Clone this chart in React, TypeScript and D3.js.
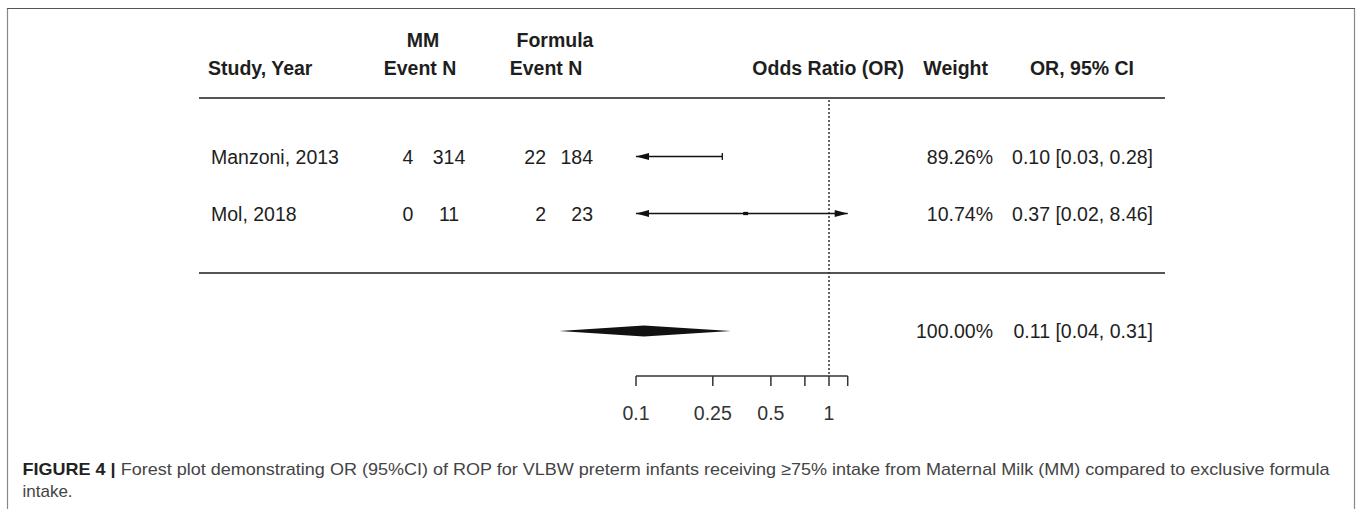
import React from "react";
import * as d3 from "d3";

const studies = ["Manzoni, 2013", "Mol, 2018"];
const mmEvent = [4, 0];
const mmN = [314, 11];
const fEvent = [22, 2];
const fN = [184, 23];
const orValues = [0.1, 0.37];
const lowerCI = [0.03, 0.02];
const upperCI = [0.28, 8.46];
const weights = [89.26, 10.74];
const summaryOR = 0.11;
const summaryLower = 0.04;
const summaryUpper = 0.31;
const summaryWeight = 100;
const tickValues = [0.1, 0.25, 0.5, 0.75, 1, 1.25];
const tickLabels = ["0.1", "0.25", "0.5", "", "1", ""];

const W = 1357;
const H = 509;
const FONT = "'Liberation Sans', Arial, Helvetica, sans-serif";
const INK = "#1e1e1e";

export default function App() {
  const x = d3.scaleLog().domain([0.1, 1]).range([636, 829]);
  const alim: [number, number] = [0.1, 1.25];
  const y = d3.scalePoint<string>().domain(studies).range([156.5, 213.5]);
  const summaryY = 331;
  const axisY = 376;

  const fmt2 = d3.format(".2f");
  const ciText = (o: number, l: number, u: number) =>
    `${fmt2(o)} [${fmt2(l)}, ${fmt2(u)}]`;

  const arrowLeft = (xt: number, yc: number) =>
    `M${xt},${yc} L${xt + 13},${yc - 3.5} L${xt + 13},${yc + 3.5} Z`;
  const arrowRight = (xt: number, yc: number) =>
    `M${xt},${yc} L${xt - 13},${yc - 3.5} L${xt - 13},${yc + 3.5} Z`;

  const xl = x(alim[0]);
  const xr = x(alim[1]);

  return (
    <svg
      width={W}
      height={H}
      style={{ position: "absolute", left: 0, top: 0, background: "#fff" }}
      fontFamily={FONT}
    >
      <rect x={0} y={0} width={W} height={H} fill="#fff" />
      {/* frame */}
      <line x1={7.5} y1={8} x2={7.5} y2={H} stroke="#888" strokeWidth={1.2} />
      <line x1={1354.5} y1={8} x2={1354.5} y2={H} stroke="#888" strokeWidth={1.2} />
      <line x1={7} y1={8.5} x2={1355} y2={8.5} stroke="#555" strokeWidth={1.2} />

      {/* header */}
      <g fontWeight="bold" fontSize={19.5} fill={INK}>
        <text x={208} y={75}>Study, Year</text>
        <text x={423} y={47} textAnchor="middle">MM</text>
        <text x={420} y={75} textAnchor="middle">Event N</text>
        <text x={555} y={47} textAnchor="middle">Formula</text>
        <text x={546} y={75} textAnchor="middle">Event N</text>
        <text x={904} y={75} textAnchor="end">Odds Ratio (OR)</text>
        <text x={988} y={75} textAnchor="end">Weight</text>
        <text x={1134} y={75} textAnchor="end">OR, 95% CI</text>
      </g>
      <line x1={199} x2={1165} y1={98} y2={98} stroke="#555" strokeWidth={2} />
      <line x1={199} x2={1165} y1={273} y2={273} stroke="#555" strokeWidth={2} />

      {/* reference line */}
      <line
        x1={x(1)}
        x2={x(1)}
        y1={100}
        y2={axisY}
        stroke="#333"
        strokeWidth={1.5}
        strokeDasharray="2,2"
      />

      {/* study rows */}
      <g fontSize={19.5} fill={INK}>
        {studies.map((s, i) => {
          const yc = y(s)!;
          const lo = lowerCI[i];
          const hi = upperCI[i];
          const x1 = x(Math.max(lo, alim[0]));
          const x2 = x(Math.min(hi, alim[1]));
          const o = orValues[i];
          const size = Math.sqrt(weights[i]) * 1.5;
          return (
            <g key={s}>
              <text x={211} y={yc + 7}>{s}</text>
              <text x={408} y={yc + 7} textAnchor="middle">{mmEvent[i]}</text>
              <text x={449} y={yc + 7} textAnchor="middle">{mmN[i]}</text>
              <text x={546} y={yc + 7} textAnchor="end">{fEvent[i]}</text>
              <text x={593} y={yc + 7} textAnchor="end">{fN[i]}</text>
              <text x={993} y={yc + 7} textAnchor="end">{fmt2(weights[i])}%</text>
              <text x={1153} y={yc + 7} textAnchor="end">{ciText(o, lo, hi)}</text>
              <line x1={x1} x2={x2} y1={yc} y2={yc} stroke="#111" strokeWidth={1.6} />
              {lo < alim[0] ? (
                <path d={arrowLeft(xl, yc)} fill="#111" />
              ) : (
                <line x1={x1} x2={x1} y1={yc - 3.5} y2={yc + 3.5} stroke="#111" strokeWidth={1.3} />
              )}
              {hi > alim[1] ? (
                <path d={arrowRight(xr, yc)} fill="#111" />
              ) : (
                <line x1={x2} x2={x2} y1={yc - 3.5} y2={yc + 3.5} stroke="#111" strokeWidth={1.3} />
              )}
              {o > alim[0] && o < alim[1] && (
                <rect
                  x={x(o) - size / 2}
                  y={yc - size / 3}
                  width={size}
                  height={(size * 2) / 3}
                  fill="#111"
                />
              )}
            </g>
          );
        })}
      </g>

      {/* summary */}
      <path
        d={`M${x(summaryLower)},${summaryY} L${x(summaryOR)},${summaryY - 5.5} L${x(
          summaryUpper
        )},${summaryY} L${x(summaryOR)},${summaryY + 5.5} Z`}
        fill="#111"
      />
      <g fontSize={19.5} fill={INK}>
        <text x={993} y={summaryY + 7} textAnchor="end">{fmt2(summaryWeight)}%</text>
        <text x={1153} y={summaryY + 7} textAnchor="end">
          {ciText(summaryOR, summaryLower, summaryUpper)}
        </text>
      </g>

      {/* axis */}
      <line x1={xl} x2={xr} y1={axisY} y2={axisY} stroke="#333" strokeWidth={1.5} />
      {tickValues.map((t, i) => (
        <g key={t}>
          <line x1={x(t)} x2={x(t)} y1={axisY} y2={axisY + 10} stroke="#333" strokeWidth={1.5} />
          {tickLabels[i] && (
            <text x={x(t)} y={420} textAnchor="middle" fontSize={19.5} fill="#333">
              {tickLabels[i]}
            </text>
          )}
        </g>
      ))}

      {/* caption */}
      <text x={22.5} y={475} fontSize={17} fill="#444" textLength={1307} lengthAdjust="spacingAndGlyphs">
        <tspan fontWeight="bold" fill="#222">FIGURE 4 |</tspan>
        <tspan> Forest plot demonstrating OR (95%CI) of ROP for VLBW preterm infants receiving ≥75% intake from Maternal Milk (MM) compared to exclusive formula</tspan>
      </text>
      <text x={22.5} y={497} fontSize={17} fill="#444">
        intake.
      </text>
    </svg>
  );
}
